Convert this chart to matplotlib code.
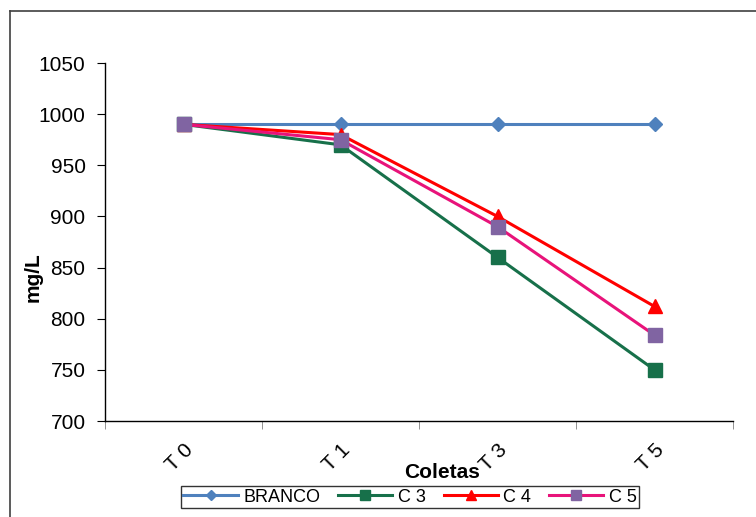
"""Line chart: mg/L over sampling times (Coletas)."""
import matplotlib
matplotlib.use("Agg")
import matplotlib.pyplot as plt
from matplotlib.lines import Line2D
import numpy as np

categories = ["T 0", "T 1", "T 3", "T 5"]
branco = [990, 990, 990, 990]
c3 = [990, 970, 860, 750]
c4 = [990, 980, 900, 812]
c5 = [990, 975, 890, 784]

plt.rcParams["font.family"] = ["Liberation Sans", "DejaVu Sans"]

fig = plt.figure(figsize=(7.56, 5.17), dpi=100)
ax = fig.add_axes([105 / 756, 1 - 421 / 517, 628 / 756, 358 / 517])

x = np.arange(len(categories))
ax.plot(x, branco, color="#4F81BD", lw=2.2, marker="D", ms=7.5, label="BRANCO")
ax.plot(x, c3, color="#17704A", lw=2.2, marker="s", ms=10.5, label="C 3")
ax.plot(x, c4, color="#FF0000", lw=2.2, marker="^", ms=10.5, label="C 4")
ax.plot(x, c5, color="#E8137A", lw=2.2, marker="s", ms=10.5,
        markerfacecolor="#8064A2", markeredgecolor="#8064A2", label="C 5")

ax.set_xlim(-0.5, len(categories) - 0.5)
ax.set_ylim(700, 1050)
ax.set_yticks(np.arange(700, 1051, 50))
ax.set_xticks(x)
ax.set_xticklabels(categories, rotation=45, ha="right", rotation_mode="anchor")
ax.set_xticks(np.arange(-0.5, len(categories), 1.0), minor=True)
ax.tick_params(axis="x", which="major", length=0, pad=14, labelsize=15)
ax.tick_params(axis="x", which="minor", length=6, direction="out", color="#808080")
ax.tick_params(axis="y", length=6, direction="out", labelsize=15, pad=8)

for side in ("top", "right"):
    ax.spines[side].set_visible(False)
ax.spines["left"].set_linewidth(1.0)
ax.spines["bottom"].set_linewidth(1.0)

fig.text(442 / 756, 1 - 472 / 517, "Coletas", ha="center", va="center",
         fontsize=15, fontweight="bold")
fig.text(33 / 756, 1 - 277 / 517, "mg/L", ha="center", va="center",
         rotation=90, fontsize=15, fontweight="bold")

leg = fig.legend(loc="center", bbox_to_anchor=(410 / 756, 1 - 497 / 517),
                 ncol=4, fontsize=13, frameon=True, fancybox=False,
                 edgecolor="#000000", handlelength=3.0, handletextpad=0.3,
                 columnspacing=1.0, borderpad=0.15, markerscale=0.7,
                 borderaxespad=0)
leg.get_frame().set_linewidth(1.0)

# outer chart border (only left and top edges fall inside the image)
fig.add_artist(Line2D([10 / 756, 10 / 756], [0, 1 - 11 / 517],
                      transform=fig.transFigure, color="#404040", lw=1.2))
fig.add_artist(Line2D([10 / 756, 1], [1 - 11 / 517, 1 - 11 / 517],
                      transform=fig.transFigure, color="#404040", lw=1.2))

fig.savefig("out.png", dpi=100)
